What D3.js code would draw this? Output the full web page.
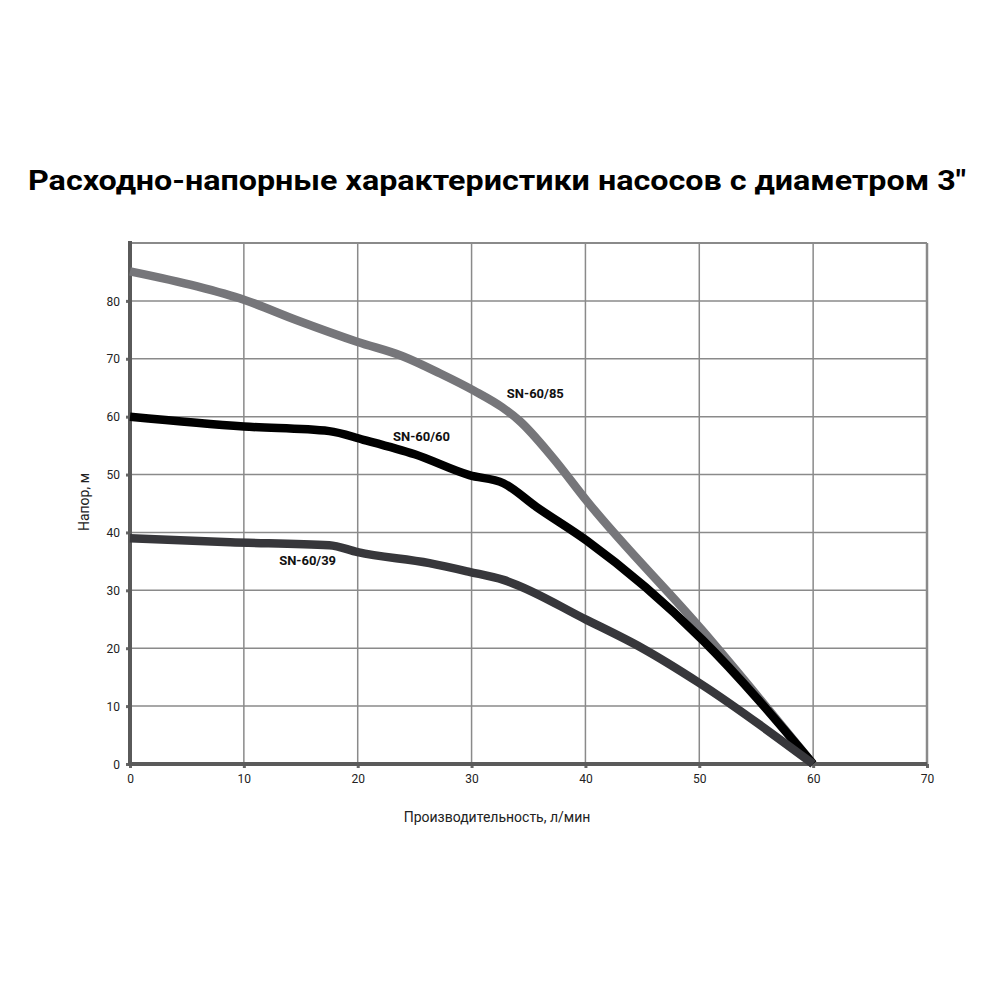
<!DOCTYPE html>
<html>
<head>
<meta charset="utf-8">
<script src="https://cdn.jsdelivr.net/npm/d3@7"></script>
<style>
  body { margin: 0; background: #fff; }
  text { font-family: Roboto, "Noto Sans", sans-serif; }
</style>
</head>
<body>
<div id="chart"></div>
<script>
var width = 1000,
    height = 1000;

var margin = { left: 130, right: 73, top: 243, bottom: 236 };

// flow, l/min -> head, m
var flow85 = [0, 5.9, 10, 14.6, 20, 24, 27.2, 30.2, 32.7, 34.2, 37.1, 40.1, 50.3, 60];
var head85 = [85.1, 82.5, 80.2, 76.7, 72.9, 70.4, 67.5, 64.5, 61.6, 59.3, 53, 45.5, 23, 0];

var flow60 = [0, 10, 17.5, 20.5, 25, 29.8, 32.8, 35.7, 40.1, 50.3, 60];
var head60 = [60, 58.3, 57.5, 56, 53.5, 49.9, 48.5, 44.4, 38.6, 21.4, 0];

var flow39 = [0, 8.8, 17.5, 20, 26.3, 29.8, 32.8, 40.1, 45, 50, 60];
var head39 = [39, 38.3, 37.8, 36.6, 34.7, 33.2, 31.8, 24.9, 20, 14, 0];

var seriesNames = ["SN-60/85", "SN-60/60", "SN-60/39"];
var xTicks = [0, 10, 20, 30, 40, 50, 60, 70];
var yTicks = [0, 10, 20, 30, 40, 50, 60, 70, 80];

var series = [
    { name: seriesNames[0], x: flow85, y: head85, color: "#76767a", label: [35.6, 63.3] },
    { name: seriesNames[1], x: flow60, y: head60, color: "#000000", label: [25.6, 55.8] },
    { name: seriesNames[2], x: flow39, y: head39, color: "#37373b", label: [15.6, 34.3] }
];

var svg = d3.select("#chart").append("svg")
    .attr("width", width)
    .attr("height", height);

var x = d3.scaleLinear().domain([0, 70]).range([margin.left, width - margin.right]);
var y = d3.scaleLinear().domain([0, 90]).range([height - margin.bottom, margin.top]);

svg.append("text")
    .attr("x", 497)
    .attr("y", 190)
    .attr("text-anchor", "middle")
    .attr("font-size", 28)
    .attr("font-weight", "bold")
    .attr("textLength", 938)
    .attr("lengthAdjust", "spacingAndGlyphs")
    .text("Расходно-напорные характеристики насосов с диаметром 3\"");

// grid
var grid = svg.append("g");
grid.selectAll(".vx").data(xTicks.slice(1))
  .enter().append("line")
    .attr("x1", function (d) { return x(d); })
    .attr("x2", function (d) { return x(d); })
    .attr("y1", y(0))
    .attr("y2", y(90))
    .attr("stroke", "#8a8a8a")
    .attr("stroke-width", function (d) { return d === 70 ? 2.5 : 1.5; });
grid.selectAll(".hy").data(yTicks.slice(1).concat([90]))
  .enter().append("line")
    .attr("x1", x(0))
    .attr("x2", x(70))
    .attr("y1", function (d) { return y(d); })
    .attr("y2", function (d) { return y(d); })
    .attr("stroke", "#8a8a8a")
    .attr("stroke-width", function (d) { return d === 90 ? 2 : 1.5; });

// axes
var xAxis = d3.axisBottom(x).tickValues(xTicks).tickSize(4).tickPadding(6);
var yAxis = d3.axisLeft(y).tickValues(yTicks).tickSize(4).tickPadding(6);

var gx = svg.append("g")
    .attr("transform", "translate(0," + y(0) + ")")
    .call(xAxis);
var gy = svg.append("g")
    .attr("transform", "translate(" + x(0) + ",0)")
    .call(yAxis);

[gx, gy].forEach(function (g) {
    g.select(".domain").remove();
    g.selectAll(".tick line").attr("stroke", "#666").attr("stroke-width", 3);
    g.selectAll(".tick text").attr("font-size", 12).attr("fill", "#222")
        .style("font-family", "Roboto, sans-serif");
});
gy.selectAll(".tick text").attr("dy", "0.35em");

svg.append("line")
    .attr("x1", x(0)).attr("x2", x(70))
    .attr("y1", y(0)).attr("y2", y(0))
    .attr("stroke", "#5a5a5a").attr("stroke-width", 4);
svg.append("line")
    .attr("x1", x(0)).attr("x2", x(0))
    .attr("y1", y(0) + 2).attr("y2", y(90) - 2)
    .attr("stroke", "#5a5a5a").attr("stroke-width", 4);

// curves
var line = d3.line()
    .curve(d3.curveMonotoneX)
    .x(function (d) { return x(d[0]); })
    .y(function (d) { return y(d[1]); });

svg.append("g").selectAll("path")
    .data(series)
  .enter().append("path")
    .attr("d", function (s) { return line(d3.zip(s.x, s.y)); })
    .attr("fill", "none")
    .attr("stroke", function (s) { return s.color; })
    .attr("stroke-width", 8.5)
    .attr("stroke-linejoin", "round");

svg.append("g").selectAll("text")
    .data(series)
  .enter().append("text")
    .attr("x", function (s) { return x(s.label[0]); })
    .attr("y", function (s) { return y(s.label[1]); })
    .attr("text-anchor", "middle")
    .attr("font-size", 13)
    .attr("font-weight", "bold")
    .attr("fill", "#111")
    .text(function (s) { return s.name; });

// axis titles
svg.append("text")
    .attr("x", 497)
    .attr("y", 822)
    .attr("text-anchor", "middle")
    .attr("font-size", 14)
    .attr("fill", "#222")
    .text("Производительность, л/мин");

svg.append("text")
    .attr("transform", "translate(89,502) rotate(-90)")
    .attr("text-anchor", "middle")
    .attr("font-size", 14)
    .attr("fill", "#222")
    .text("Напор, м");
</script>
</body>
</html>
